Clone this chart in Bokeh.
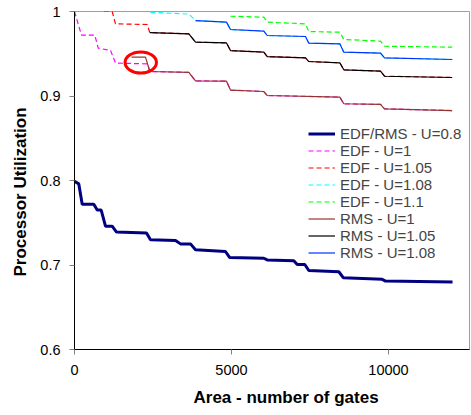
import math
from bokeh.plotting import figure
from bokeh.models import Range1d, Legend, LegendItem, Title, NumeralTickFormatter, FixedTicker
from bokeh.embed import file_html
from bokeh.resources import INLINE

# ---------------- data ----------------
x_ticks = [0, 5000, 10000]
y_ticks = [0.6, 0.7, 0.8, 0.9, 1.0]

u08_x = [0, 137, 245, 615, 723, 850, 987, 1200, 1338, 2293, 2420, 3217, 3376, 3694, 3854,
         4809, 4937, 6029, 6137, 6985, 7093, 7335, 7462, 8418, 8558, 9800, 9905, 12040]
u08_y = [0.799, 0.796, 0.772, 0.772, 0.765, 0.765, 0.746, 0.746, 0.739, 0.738, 0.730, 0.729,
         0.725, 0.725, 0.718, 0.716, 0.709, 0.708, 0.706, 0.705, 0.7006, 0.7006, 0.6935,
         0.692, 0.685, 0.683, 0.681, 0.680]

edf100_x = [0, 223, 647, 755, 1146, 1306, 2325, 2400, 3641, 3854, 4841, 4968, 6030, 6137,
            8450, 8577, 9746, 9873, 12030]
edf100_y = [1.0, 0.972, 0.972, 0.9566, 0.954, 0.939, 0.938, 0.929, 0.928, 0.918, 0.9175,
            0.907, 0.9053, 0.9006, 0.8986, 0.8908, 0.890, 0.8848, 0.8828]

edf105_x = [940, 1200, 1306, 2315, 2400, 3641, 3854, 4841, 4968, 6030, 6137, 7357, 7462,
            8450, 8577, 9746, 9873, 12030]
edf105_y = [1.0, 1.0, 0.9854, 0.9846, 0.975, 0.9736, 0.9637, 0.9628, 0.9538, 0.9519,
            0.9467, 0.9452, 0.9408, 0.9393, 0.931, 0.9294, 0.9234, 0.9219]

edf108_x = [2420, 3641, 3854, 4841, 4968, 6030, 6137, 7357, 7462, 8450, 8577, 9746, 9873, 12030]
edf108_y = [0.999, 0.997, 0.9893, 0.9874, 0.9787, 0.9767, 0.9716, 0.9704, 0.9625, 0.9617,
            0.9519, 0.9507, 0.9452, 0.9432]

edf110_x = [4968, 6030, 6137, 7357, 7462, 8450, 8577, 9746, 9873, 12030]
edf110_y = [0.9944, 0.9933, 0.9874, 0.9854, 0.9763, 0.9755, 0.9669, 0.9649, 0.9589, 0.9578]

rms100_x = [1815, 2261, 2400, 3641, 3854, 4841, 4968, 6030, 6137, 8450, 8577, 9746, 9873, 12030]
rms100_y = [0.946, 0.946, 0.929, 0.928, 0.918, 0.9175, 0.907, 0.9053, 0.9006, 0.8986,
            0.8908, 0.890, 0.8848, 0.8828]

rms105_x = [2400, 3641, 3854, 4841, 4968, 6030, 6137, 7357, 7462, 8450, 8577, 9746, 9873, 12030]
rms105_y = [0.975, 0.9736, 0.9637, 0.9628, 0.9538, 0.9519, 0.9467, 0.9452, 0.9408, 0.9393,
            0.931, 0.9294, 0.9234, 0.9219]

rms108_x = [3854, 4841, 4968, 6030, 6137, 7357, 7462, 8450, 8577, 9746, 9873, 12030]
rms108_y = [0.9893, 0.9874, 0.9787, 0.9767, 0.9716, 0.9704, 0.9625, 0.9617, 0.9519, 0.9507,
            0.9452, 0.9432]

x_title = "Area - number of gates"
y_title = "Processor Utilization"

# highlighted region (annotation ellipse)
mark_x, mark_y, mark_w, mark_h = 2110, 0.9396, 1000, 0.025

FONT = "Liberation Sans"

p = figure(width=471, height=415, output_backend="svg", toolbar_location=None,
           x_range=Range1d(0, 12580), y_range=Range1d(0.6, 1.0),
           min_border_left=74, min_border_right=2, min_border_top=11, min_border_bottom=66)
p.background_fill_color = "white"
p.border_fill_color = "white"
p.outline_line_color = "#a0a0a0"
p.outline_line_width = 1
p.xgrid.visible = False
p.ygrid.visible = False

for ax in (p.xaxis[0], p.yaxis[0]):
    ax.axis_line_color = "black"
    ax.axis_line_width = 1
    ax.major_tick_out = 5
    ax.major_tick_in = 0
    ax.major_tick_line_color = "#808080"
    ax.minor_tick_line_color = None
    ax.major_label_text_font = FONT
    ax.major_label_text_font_size = "14.5px"
    ax.major_label_text_color = "black"

p.xaxis.ticker = FixedTicker(ticks=x_ticks)
p.yaxis.ticker = FixedTicker(ticks=y_ticks)
p.yaxis.formatter = NumeralTickFormatter(format="0.[0]")
p.yaxis.major_label_standoff = 9
p.xaxis.major_label_standoff = 10

dash = "5 3"
r08 = p.line(u08_x, u08_y, line_color="#000080", line_width=3)
e100 = p.line(edf100_x, edf100_y, line_color="#FF00FF", line_width=1.2, line_dash=dash)
e105 = p.line(edf105_x, edf105_y, line_color="#FF0000", line_width=1.2, line_dash=dash)
e108 = p.line(edf108_x, edf108_y, line_color="#00FFFF", line_width=1.2, line_dash=dash)
e110 = p.line(edf110_x, edf110_y, line_color="#00FF00", line_width=1.2, line_dash=dash)
s100 = p.line(rms100_x, rms100_y, line_color="#993333", line_width=1.2)
s105 = p.line(rms105_x, rms105_y, line_color="#000000", line_width=1.2)
s108 = p.line(rms108_x, rms108_y, line_color="#0033FF", line_width=1.2)

p.ellipse(x=[mark_x], y=[mark_y], width=[mark_w], height=[mark_h],
          fill_color=None, line_color="#FF0000", line_width=3)

legend = Legend(items=[
    LegendItem(label="EDF/RMS - U=0.8", renderers=[r08]),
    LegendItem(label="EDF - U=1", renderers=[e100]),
    LegendItem(label="EDF - U=1.05", renderers=[e105]),
    LegendItem(label="EDF - U=1.08", renderers=[e108]),
    LegendItem(label="EDF - U=1.1", renderers=[e110]),
    LegendItem(label="RMS - U=1", renderers=[s100]),
    LegendItem(label="RMS - U=1.05", renderers=[s105]),
    LegendItem(label="RMS - U=1.08", renderers=[s108]),
], location=(234, 88))
legend.label_text_font = FONT
legend.label_text_font_size = "15px"
legend.glyph_width = 27
legend.glyph_height = 17
legend.label_height = 17
legend.spacing = 0
legend.padding = 0
legend.margin = 0
legend.label_standoff = 5
legend.border_line_color = None
legend.background_fill_alpha = 0
p.add_layout(legend)

p.add_layout(Title(text=x_title, align="left", offset=119, standoff=17,
                   text_font=FONT, text_font_size="17px", text_font_style="bold",
                   text_color="black"), "below")
p.add_layout(Title(text=y_title, align="left", offset=73, standoff=16,
                   text_font=FONT, text_font_size="17px", text_font_style="bold",
                   text_color="black"), "left")

open("out.html", "w").write(file_html(p, INLINE))
